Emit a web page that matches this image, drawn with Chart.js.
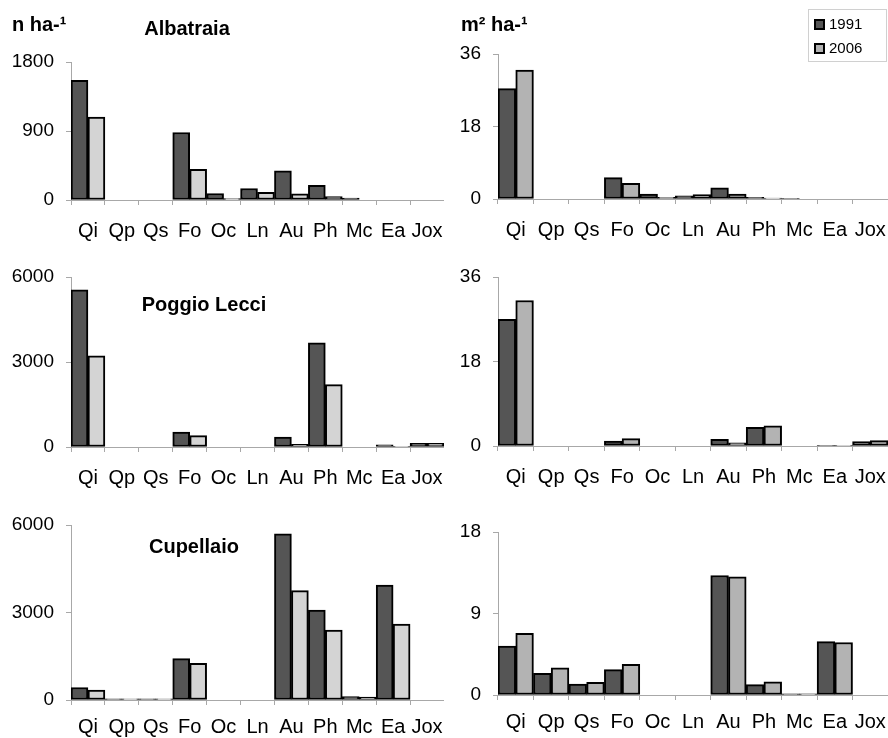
<!DOCTYPE html>
<html>
<head>
<meta charset="utf-8">
<script src="https://cdn.jsdelivr.net/npm/chart.js@4.4.0/dist/chart.umd.min.js"></script>
<style>
  body { margin: 0; width: 888px; height: 738px; overflow: hidden; background: #fff; position: relative;
         font-family: "Liberation Sans", Arial, sans-serif; }
  .panel { position: absolute; }
  #legend { position: absolute; left: 808px; top: 9px; width: 77px; height: 51px; border: 1px solid #d0d0d0;
            font-size: 15px; color: #000; }
  #legend div { position: absolute; left: 5px; height: 18px; line-height: 18px; }
  #legend span.sw { display: inline-block; width: 7px; height: 7px; border: 2px solid #000; vertical-align: -1px; margin-right: 4px; }
</style>
</head>
<body>
<div class="panel" style="left:0;top:0;width:444px;height:244px"><canvas id="c1"></canvas></div>
<div class="panel" style="left:444px;top:0;width:444px;height:243px"><canvas id="c2"></canvas></div>
<div class="panel" style="left:0;top:240px;width:444px;height:251px"><canvas id="c3"></canvas></div>
<div class="panel" style="left:444px;top:240px;width:444px;height:250px"><canvas id="c4"></canvas></div>
<div class="panel" style="left:0;top:480px;width:444px;height:264px"><canvas id="c5"></canvas></div>
<div class="panel" style="left:444px;top:480px;width:444px;height:259px"><canvas id="c6"></canvas></div>
<div id="legend"></div>
<script>
// species codes
const species = ['Qi', 'Qp', 'Qs', 'Fo', 'Oc', 'Ln', 'Au', 'Ph', 'Mc', 'Ea', 'Jox'];
const years = ['1991', '2006'];

// density, n ha-1
const albatraiaN1991 = [1560, 0, 0, 880, 85, 150, 380, 190, 25, 0, 0];
const albatraiaN2006 = [1080, 0, 0, 400, 18, 100, 80, 45, 0, 0, 0];
const poggioN1991 = [5550, 0, 0, 530, 0, 0, 350, 3680, 0, 80, 130];
const poggioN2006 = [3220, 0, 0, 400, 0, 0, 90, 2200, 0, 20, 130];
const cupellaioN1991 = [430, 40, 40, 1420, 0, 0, 5700, 3080, 115, 3940, 0];
const cupellaioN2006 = [340, 40, 40, 1260, 0, 0, 3750, 2400, 100, 2600, 0];

// basal area, m2 ha-1
const albatraiaG1991 = [27.4, 0, 0, 5.3, 1.2, 0.8, 2.8, 0.4, 0.05, 0, 0];
const albatraiaG2006 = [32.0, 0, 0, 3.9, 0.4, 1.1, 1.25, 0.2, 0, 0, 0];
const poggioG1991 = [27.0, 0, 0, 1.07, 0, 0, 1.4, 4.0, 0, 0.15, 0.92];
const poggioG2006 = [31.0, 0, 0, 1.56, 0, 0, 0.7, 4.27, 0, 0.08, 1.13];
const cupellaioG1991 = [5.4, 2.4, 1.2, 2.8, 0, 0, 13.2, 1.15, 0.12, 5.9, 0];
const cupellaioG2006 = [6.8, 3.0, 1.4, 3.4, 0, 0, 13.05, 1.45, 0.12, 5.8, 0];

// y axis ticks
const ticksAlbatraiaN = [0, 900, 1800];
const ticksPoggioN = [0, 3000, 6000];
const ticksCupellaioN = [0, 3000, 6000];
const ticksAlbatraiaG = [0, 18, 36];
const ticksPoggioG = [0, 18, 36];
const ticksCupellaioG = [0, 9, 18];

const DARK = '#555555';
const LIGHT_N = '#d4d4d4';
const LIGHT_G = '#b3b3b3';
const AXIS = '#a8a8a8';

// draws site names and units on the canvas
const panelText = {
  id: 'panelText',
  afterDraw(chart, args, opts) {
    const ctx = chart.ctx;
    (opts.items || []).forEach(it => {
      ctx.save();
      ctx.font = it.font;
      ctx.fillStyle = '#000';
      ctx.textAlign = it.align || 'left';
      ctx.textBaseline = 'middle';
      ctx.fillText(it.text, it.x, it.y);
      ctx.restore();
    });
  }
};

function makePanel(id, a, b, light, ticks, padTop, yWidth, labelPad, texts) {
  return new Chart(document.getElementById(id), {
    type: 'bar',
    data: {
      labels: species,
      datasets: [
        { label: years[0], data: a, backgroundColor: DARK },
        { label: years[1], data: b, backgroundColor: light }
      ]
    },
    options: {
      responsive: true,
      maintainAspectRatio: false,
      animation: false,
      layout: { padding: { top: padTop, right: 0, bottom: 0, left: 0 } },
      datasets: {
        bar: { categoryPercentage: 1, barPercentage: 1, borderWidth: 2, borderColor: '#000', borderSkipped: false }
      },
      plugins: {
        legend: { display: false },
        tooltip: { enabled: false },
        panelText: { items: texts }
      },
      scales: {
        x: {
          grid: { offset: true, drawOnChartArea: false, tickLength: 5, color: AXIS },
          border: { color: AXIS },
          ticks: { color: '#000', font: { size: 20, family: 'Liberation Sans' }, padding: labelPad, maxRotation: 0, autoSkip: false },
          afterFit: s => { s.height = 44; s.paddingLeft = 0; s.paddingRight = 0; }
        },
        y: {
          min: 0,
          max: ticks[ticks.length - 1],
          afterBuildTicks: s => { s.ticks = ticks.map(v => ({ value: v })); },
          grid: { drawOnChartArea: false, tickLength: 5, color: AXIS },
          border: { color: AXIS },
          ticks: { color: '#000', font: { size: 19, family: 'Liberation Sans' }, padding: 12, callback: v => String(v) },
          afterFit: s => { s.width = yWidth; }
        }
      }
    },
    plugins: [panelText]
  });
}

const titleFont = 'bold 20px "Liberation Sans"';

makePanel('c1', albatraiaN1991, albatraiaN2006, LIGHT_N, ticksAlbatraiaN, 62, 71, 14, [
  { text: 'n ha-\u00b9', x: 12, y: 25, font: titleFont },
  { text: 'Albatraia', x: 187, y: 29, font: titleFont, align: 'center' }
]);
makePanel('c2', albatraiaG1991, albatraiaG2006, LIGHT_G, ticksAlbatraiaG, 54, 54, 14, [
  { text: 'm\u00b2 ha-\u00b9', x: 17, y: 25, font: titleFont }
]);
makePanel('c3', poggioN1991, poggioN2006, LIGHT_N, ticksPoggioN, 37, 71, 14, [
  { text: 'Poggio Lecci', x: 204, y: 65, font: titleFont, align: 'center' }
]);
makePanel('c4', poggioG1991, poggioG2006, LIGHT_G, ticksPoggioG, 37, 54, 14, []);
makePanel('c5', cupellaioN1991, cupellaioN2006, LIGHT_N, ticksCupellaioN, 45, 71, 10, [
  { text: 'Cupellaio', x: 194, y: 67, font: titleFont, align: 'center' }
]);
makePanel('c6', cupellaioG1991, cupellaioG2006, LIGHT_G, ticksCupellaioG, 52, 54, 10, []);

// legend box, built from the series
const legend = document.getElementById('legend');
[DARK, LIGHT_G].forEach((c, i) => {
  const row = document.createElement('div');
  row.style.top = (5 + i * 24) + 'px';
  row.innerHTML = '<span class="sw" style="background:' + c + '"></span>' + years[i];
  legend.appendChild(row);
});
</script>
</body>
</html>
